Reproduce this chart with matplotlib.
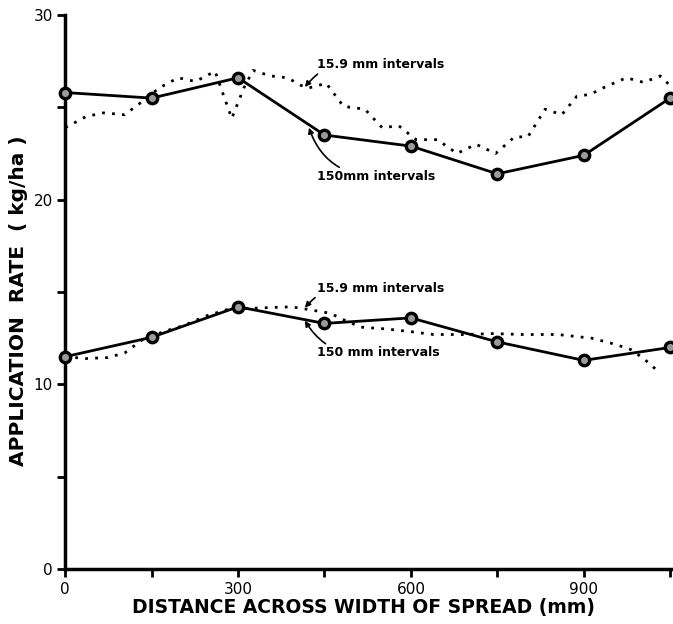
"""
plot.py
-------
Application rate across the width of spread, sampled at 150 mm and 15.9 mm intervals.
"""
import matplotlib
matplotlib.use("Agg")
import matplotlib.pyplot as plt

# === Data ===
# 150 mm sampling intervals (solid lines with markers)
x_150 = [0, 150, 300, 450, 600, 750, 900, 1050]
upper_150 = [25.8, 25.5, 26.6, 23.5, 22.9, 21.4, 22.4, 25.5]
lower_150 = [11.5, 12.55, 14.2, 13.3, 13.6, 12.3, 11.3, 12.0]

# 15.9 mm sampling intervals (dotted lines)
x_upper_159 = [0, 36, 66, 103, 133, 163, 196, 226, 260, 289, 310, 326, 356, 386,
               408, 423, 453, 483, 520, 550, 579, 609, 646, 680, 713, 747, 780,
               803, 833, 862, 888, 911, 937, 974, 1004, 1033, 1054]
upper_159 = [23.9, 24.5, 24.7, 24.6, 25.3, 26.05, 26.6, 26.4, 26.95, 24.4, 26.05,
             27.0, 26.7, 26.6, 26.2, 26.05, 26.3, 25.05, 24.9, 23.9, 24.0, 23.25,
             23.25, 22.5, 23.0, 22.5, 23.4, 23.4, 24.9, 24.6, 25.6, 25.7, 26.1,
             26.6, 26.35, 26.7, 26.05]

x_lower_159 = [0, 36, 73, 103, 133, 170, 207, 244, 281, 311, 348, 393, 423, 460,
               483, 513, 557, 601, 639, 691, 743, 795, 855, 914, 951, 981, 1004, 1033]
lower_159 = [11.5, 11.4, 11.45, 11.7, 12.4, 12.85, 13.2, 13.7, 14.05, 14.1, 14.15,
             14.2, 14.05, 13.85, 13.5, 13.1, 13.0, 12.85, 12.7, 12.7, 12.75, 12.7,
             12.7, 12.5, 12.2, 11.9, 11.4, 10.6]

x_ticks = [0, 150, 300, 450, 600, 750, 900, 1050]
x_labels = ["0", "", "300", "", "600", "", "900", ""]
y_ticks = [0, 5, 10, 15, 20, 25, 30]
y_labels = ["0", "", "10", "", "20", "", "30"]

plt.rcParams["font.family"] = ["DejaVu Sans"]

fig = plt.figure(figsize=(6.73, 6.24), dpi=100)
ax = fig.add_axes([0.097, 0.088, 0.903, 0.888])

# === Lines ===
dotted = (0, (1, 2.6))
ax.plot(x_upper_159, upper_159, color="black", lw=2.0, ls=dotted, clip_on=False)
ax.plot(x_lower_159, lower_159, color="black", lw=2.0, ls=dotted, clip_on=False)
for ys in (upper_150, lower_150):
    ax.plot(x_150, ys, color="black", lw=2.0, marker="o", ms=7.5,
            mfc="#9a9a9a", mec="black", mew=2.4, clip_on=False, zorder=3)

# === Annotations ===
ann_kw = dict(fontsize=9, fontweight="bold", va="center", ha="left")
arrow_down = dict(arrowstyle="-|>", lw=1.2, color="black", mutation_scale=8,
                  connectionstyle="arc3,rad=0.35", shrinkA=0, shrinkB=0)
arrow_up = dict(arrowstyle="-|>", lw=1.2, color="black", mutation_scale=8,
                connectionstyle="arc3,rad=-0.35", shrinkA=0, shrinkB=0)

ax.annotate("15.9 mm intervals", xy=(416, 26.1), xytext=(437, 27.3),
            arrowprops=arrow_down, **ann_kw)
ax.annotate("150mm intervals", xy=(423, 23.9), xytext=(437, 21.25),
            arrowprops=arrow_up, **ann_kw)
ax.annotate("15.9 mm intervals", xy=(416, 14.15), xytext=(437, 15.2),
            arrowprops=arrow_down, **ann_kw)
ax.annotate("150 mm intervals", xy=(416, 13.45), xytext=(437, 11.7),
            arrowprops=arrow_up, **ann_kw)

# === Axes styling ===
ax.set_xlim(0, 1055)
ax.set_ylim(0, 30)
ax.set_xticks(x_ticks)
ax.set_xticklabels(x_labels)
ax.set_yticks(y_ticks)
ax.set_yticklabels(y_labels)
ax.tick_params(direction="out", length=6, width=2, labelsize=11, pad=3)
for side in ("top", "right"):
    ax.spines[side].set_visible(False)
for side in ("left", "bottom"):
    ax.spines[side].set_linewidth(2.5)

ax.set_xlabel("DISTANCE ACROSS WIDTH OF SPREAD (mm)", fontsize=13.5,
              fontweight="bold")
ax.set_ylabel("APPLICATION  RATE  ( kg/ha )", fontsize=14.5, fontweight="bold")
ax.xaxis.set_label_coords(0.49, -0.069)
ax.yaxis.set_label_coords(-0.077, 0.484)
ax.xaxis.label.set_va("center")
ax.yaxis.label.set_va("center")

fig.savefig("out.png", dpi=100)
